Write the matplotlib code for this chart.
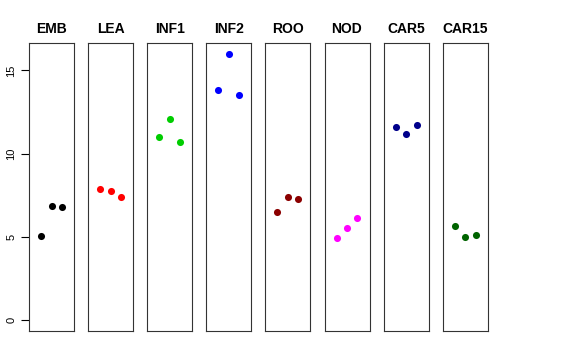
import matplotlib
matplotlib.use('Agg')
import matplotlib.pyplot as plt

plt.rcParams['font.family'] = ['Liberation Sans', 'DejaVu Sans']

# Data
groups = ['EMB', 'LEA', 'INF1', 'INF2', 'ROO', 'NOD', 'CAR5', 'CAR15']
colors = ['black', 'red', '#00CD00', 'blue', '#8B0000', 'magenta', '#00008B', '#006400']
emb = [5.04, 6.84, 6.78]
lea = [7.90, 7.78, 7.40]
inf1 = [11.02, 12.08, 10.68]
inf2 = [13.82, 16.00, 13.54]
roo = [6.48, 7.38, 7.26]
nod = [4.92, 5.52, 6.12]
car5 = [11.58, 11.20, 11.72]
car15 = [5.68, 4.98, 5.14]
series = [emb, lea, inf1, inf2, roo, nod, car5, car15]
xpos = [1, 2, 3]
yticks = [0, 5, 10, 15]

W, H = 576, 360
fig = plt.figure(figsize=(W / 100, H / 100), dpi=100)

left0 = 29
step = 59.1
pw = 45
top, bottom = 43, 331

for i, (name, vals, col) in enumerate(zip(groups, series, colors)):
    x0 = left0 + i * step
    ax = fig.add_axes([x0 / W, (H - bottom) / H, pw / W, (bottom - top) / H])
    ax.scatter(xpos, vals, s=26, color=col, zorder=3, linewidths=0)
    ax.set_xlim(-0.16, 4.16)
    ax.set_ylim(-0.64, 16.64)
    ax.set_xticks([])
    ax.set_title(name, fontsize=10, fontweight='bold', pad=7)
    for s in ax.spines.values():
        s.set_linewidth(0.8)
        s.set_color('#333333')
    if i == 0:
        ax.set_yticks(yticks)
        ax.set_yticklabels([str(t) for t in yticks], rotation=90, va='center', fontsize=8)
        ax.tick_params(axis='y', length=6, width=0.8, pad=3)
    else:
        ax.set_yticks([])

fig.savefig('out.png', dpi=100)
